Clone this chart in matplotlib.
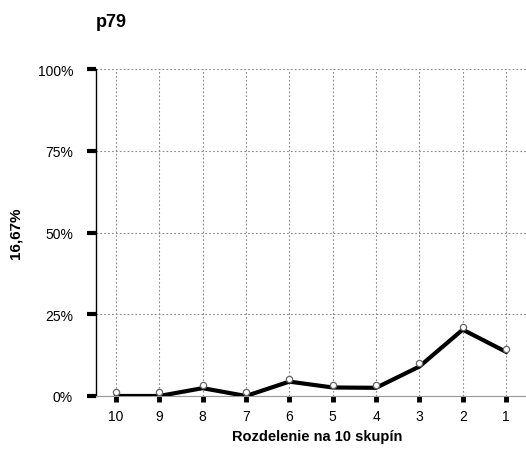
import matplotlib
matplotlib.use("Agg")
import matplotlib.pyplot as plt
from matplotlib.ticker import FuncFormatter

plt.rcParams["font.family"] = ["Liberation Sans", "DejaVu Sans"]

groups = ["10", "9", "8", "7", "6", "5", "4", "3", "2", "1"]
line_values = [0.0, 0.0, 2.4, 0.0, 4.4, 2.6, 2.5, 9.0, 20.3, 13.5]
point_values = [1.3, 1.3, 3.4, 1.3, 5.2, 3.4, 3.4, 10.0, 21.2, 14.4]
y_ticks = [0, 25, 50, 75, 100]

fig = plt.figure(figsize=(5.26, 4.52), dpi=100, facecolor="white")
ax = fig.add_axes([0.1825, 0.1217, 0.8175, 0.7233])

x = list(range(len(groups)))
ax.plot(x, line_values, color="black", linewidth=3.0, zorder=3)
ax.plot(x, point_values, linestyle="none", marker="o", markersize=4.5,
        markerfacecolor="white", markeredgecolor="#666666", markeredgewidth=0.9, zorder=4)

ax.set_xlim(-0.46, len(groups) - 1 + 0.46)
ax.set_ylim(0, 100)
ax.set_xticks(x)
ax.set_xticklabels(groups)
ax.set_yticks(y_ticks)
ax.yaxis.set_major_formatter(FuncFormatter(lambda v, p: f"{v:.0f}%"))

ax.grid(True, color="#888888", linestyle=(0, (1.5, 2)), linewidth=0.8)
ax.set_axisbelow(True)
for side in ("top", "right"):
    ax.spines[side].set_visible(False)
ax.spines["bottom"].set_color("#999999")
ax.spines["left"].set_color("black")
ax.spines["left"].set_linewidth(1.0)
ax.tick_params(axis="x", direction="out", length=4.5, width=3.5, color="black",
               labelsize=10, pad=5)
ax.tick_params(axis="y", direction="out", length=6.5, width=3, color="black",
               labelsize=10, pad=10)

ax.set_xlabel("Rozdelenie na 10 skupín", fontsize=10.5, fontweight="bold")
ax.xaxis.set_label_coords(0.515, -0.102)
ax.set_ylabel("16,67%", fontsize=11, fontweight="bold")
ax.yaxis.set_label_coords(-0.172, 0.5)
fig.text(0.183, 0.950, "p79", fontsize=13, fontweight="bold", va="center", ha="left")

fig.savefig("out.png", dpi=100, facecolor="white")
